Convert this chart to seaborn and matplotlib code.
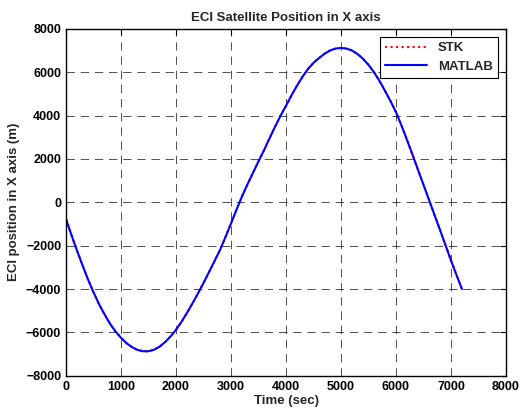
import numpy as np
import pandas as pd
import matplotlib
matplotlib.use("Agg")
import matplotlib.pyplot as plt
import seaborn as sns

# 시간 (sec) - 100초 간격
time_sec = list(range(0, 7300, 100))

# STK 결과 (m), 그림에서 읽은 값
stk_x = [-780, -1520, -2230, -2910, -3560, -4150, -4700, -5170, -5600, -5960,
         -6250, -6500, -6680, -6810, -6870, -6870, -6800, -6660, -6450, -6190,
         -5880, -5510, -5100, -4660, -4200, -3720, -3220, -2710, -2200, -1600,
         -980, -340, 270, 830, 1360, 1890, 2400, 2950, 3480, 3990,
         4450, 4930, 5380, 5790, 6150, 6430, 6650, 6850, 7000, 7090,
         7120, 7090, 7000, 6840, 6620, 6340, 6000, 5600, 5140, 4670,
         4160, 3540, 2880, 2200, 1500, 810, 120, -580, -1270, -1970,
         -2680, -3350, -4000]

# MATLAB 결과 (m) - STK와 거의 겹침
matlab_x = [-780, -1520, -2230, -2910, -3560, -4150, -4700, -5170, -5600, -5960,
            -6250, -6500, -6680, -6810, -6870, -6870, -6800, -6660, -6450, -6190,
            -5880, -5510, -5100, -4660, -4200, -3720, -3220, -2710, -2200, -1600,
            -980, -340, 270, 830, 1360, 1890, 2400, 2950, 3480, 3990,
            4450, 4930, 5380, 5790, 6150, 6430, 6650, 6850, 7000, 7090,
            7120, 7090, 7000, 6840, 6620, 6340, 6000, 5600, 5140, 4670,
            4160, 3540, 2880, 2200, 1500, 810, 120, -580, -1270, -1970,
            -2680, -3350, -4000]

x_ticks = [0, 1000, 2000, 3000, 4000, 5000, 6000, 7000, 8000]
y_ticks = [-8000, -6000, -4000, -2000, 0, 2000, 4000, 6000, 8000]

sns.set_style("white")
plt.rcParams['font.family'] = ['Liberation Sans', 'DejaVu Sans']
plt.rcParams['font.weight'] = 'bold'

df = pd.DataFrame({'time': time_sec, 'STK': stk_x, 'MATLAB': matlab_x})

fig = plt.figure(figsize=(5.2, 4.12), dpi=100)
ax = fig.add_axes([0.127, 0.088, 0.846, 0.842])

sns.lineplot(data=df, x='time', y='STK', ax=ax, color='red', linestyle=':', linewidth=1.5, label='STK')
sns.lineplot(data=df, x='time', y='MATLAB', ax=ax, color='blue', linestyle='-', linewidth=1.5, label='MATLAB')

ax.set_xlim(0, 8000)
ax.set_ylim(-8000, 8000)
ax.set_xticks(x_ticks)
ax.set_yticks(y_ticks)
ax.tick_params(direction='in', top=True, right=True, length=4, width=0.8, labelsize=9, colors='black')
for lab in ax.get_xticklabels() + ax.get_yticklabels():
    lab.set_fontweight('bold')

ax.grid(True, color='black', linestyle=(0, (10, 7)), linewidth=0.6, alpha=0.8)
for sp in ax.spines.values():
    sp.set_color('black')
    sp.set_linewidth(1.0)

ax.set_title('ECI Satellite Position in X axis', fontsize=9.5, fontweight='bold', pad=6)
ax.set_xlabel('Time (sec)', fontsize=9.5, fontweight='bold', labelpad=2)
ax.set_ylabel('ECI position in X axis (m)', fontsize=9.5, fontweight='bold', labelpad=4)

leg = ax.legend(loc='upper right', fontsize=9.5, frameon=True, fancybox=False,
                borderaxespad=0.6, handlelength=3.2, framealpha=1)
leg.get_frame().set_edgecolor('black')
leg.get_frame().set_linewidth(0.8)
for t in leg.get_texts():
    t.set_fontweight('bold')

fig.savefig('out.png', dpi=100)
